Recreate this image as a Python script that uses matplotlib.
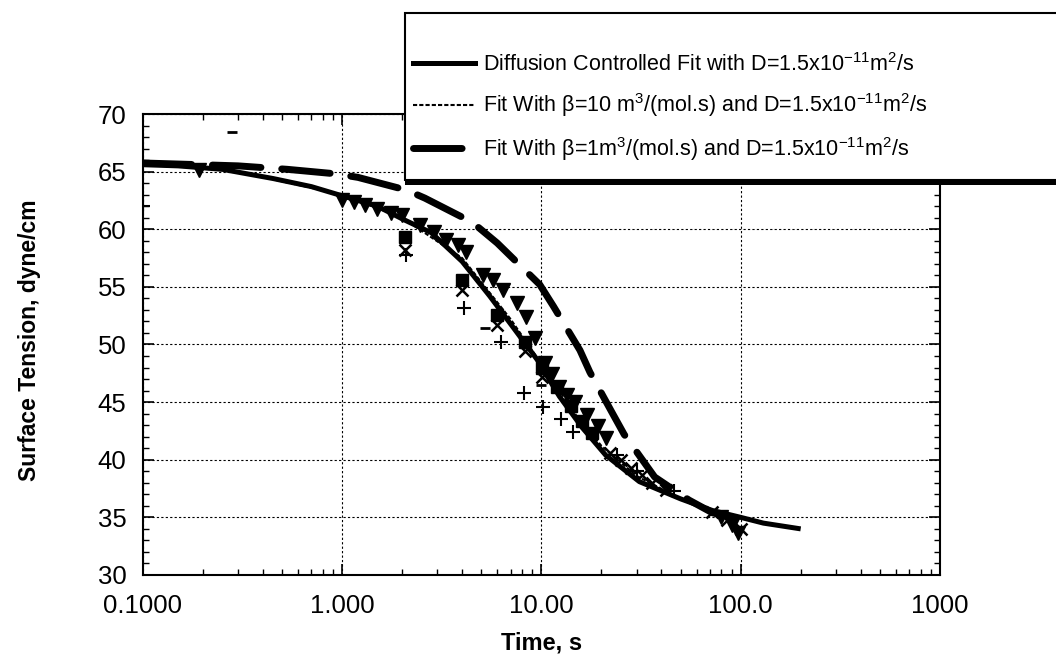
import matplotlib
matplotlib.use('Agg')
import matplotlib.pyplot as plt
import matplotlib.patches as mpatches
from matplotlib.lines import Line2D
from matplotlib.ticker import MultipleLocator, LogLocator, NullFormatter

plt.rcParams['font.family'] = ['Liberation Sans', 'DejaVu Sans']
plt.rcParams['mathtext.fontset'] = 'custom'
plt.rcParams['mathtext.rm'] = 'Liberation Sans'

# fit curves (time in s, surface tension in dyne/cm)
t_diff = [0.1, 0.15, 0.25, 0.45, 0.7, 1.0, 1.5, 2.0, 2.8, 4.0, 5.5, 7.2, 9.5, 12.3, 16, 21, 31, 50, 72, 100, 130, 200]
st_diff = [65.6, 65.5, 65.2, 64.4, 63.7, 62.9, 62.0, 60.9, 59.7, 57.2, 54.2, 51.5, 48.7, 45.5, 42.8, 40.4, 38.1, 36.6, 35.6, 35.0, 34.5, 34.0]

t_b10 = [0.1, 0.3, 1.0, 2.0, 4.0, 7.0, 10, 15, 20, 30, 50, 80, 100]
st_b10 = [65.7, 65.0, 63.0, 61.0, 57.5, 52.2, 48.3, 43.8, 41.2, 38.6, 36.6, 35.3, 34.9]

t_b1 = [0.1, 0.3, 0.53, 0.94, 1.2, 2.1, 2.6, 4.5, 6.0, 9.8, 11.5, 15.6, 17.5, 22.6, 26, 37, 55, 72, 100]
st_b1 = [65.75, 65.5, 65.2, 64.8, 64.5, 63.4, 62.7, 60.6, 58.8, 55.2, 53.3, 49.5, 47.6, 44.1, 42.2, 38.5, 36.5, 35.4, 34.8]

# measured points
t_tri = [0.19, 1.0, 1.15, 1.3, 1.5, 1.75, 2.0, 2.45, 2.9, 3.3, 3.8, 4.2, 5.1, 5.7, 6.4, 7.5, 8.4, 9.3, 10.4, 11.3, 12.3,
         13.5, 14.7, 16.9, 19.2, 21.2, 80, 90, 97]
st_tri = [65.1, 62.5, 62.4, 62.1, 61.8, 61.4, 61.2, 60.4, 59.8, 59.1, 58.6, 58.0, 56.0, 55.6, 54.7, 53.6, 52.4, 50.6, 48.4, 47.4, 46.3,
          45.6, 45.0, 43.9, 42.9, 41.9, 35.0, 34.3, 33.6]

t_sq = [2.07, 4.0, 6.0, 8.3, 10.1, 12.0, 14.0, 16.0, 18.0]
st_sq = [59.3, 55.6, 52.6, 50.2, 48.0, 46.3, 44.7, 43.4, 42.3]

t_x = [2.07, 4.0, 6.0, 8.3, 10.1, 22, 25, 28, 32, 36, 42, 72, 85, 100]
st_x = [58.2, 54.7, 51.7, 49.4, 47.2, 40.6, 40.0, 39.3, 38.7, 38.0, 37.4, 35.5, 34.8, 34.0]

t_plus = [0.1, 2.1, 4.1, 6.3, 8.2, 10.2, 12.6, 14.4, 24, 30, 46]
st_plus = [62.0, 57.8, 53.2, 50.2, 45.8, 44.6, 43.5, 42.4, 40.4, 39.0, 37.3]

t_small = [5.2, 0.28, 10.0]
st_small = [51.4, 68.4, 46.5]

x_ticks = [0.1, 1, 10, 100, 1000]
x_tick_labels = ['0.1000', '1.000', '10.00', '100.0', '1000']
y_ticks = [30, 35, 40, 45, 50, 55, 60, 65, 70]

labels = [r'Diffusion Controlled Fit with D=1.5x10$^{\mathregular{-11}}$m$^{\mathregular{2}}$/s',
          r'Fit With $\mathregular{\beta}$=10 m$^{\mathregular{3}}$/(mol.s) and D=1.5x10$^{\mathregular{-11}}$m$^{\mathregular{2}}$/s',
          r'Fit With $\mathregular{\beta}$=1m$^{\mathregular{3}}$/(mol.s) and D=1.5x10$^{\mathregular{-11}}$m$^{\mathregular{2}}$/s']

fig = plt.figure(figsize=(10.56, 6.59), dpi=100)
ax = fig.add_axes([0.1354, 0.1275, 0.7547, 0.6995])

ax.plot(t_diff, st_diff, color='black', lw=3.6, solid_capstyle='butt', zorder=3)
ax.plot(t_b10, st_b10, color='black', lw=1.5, ls=(0, (2, 1)), zorder=3)
ax.plot(t_b1, st_b1, color='black', lw=5, ls=(0, (7, 3)), dash_capstyle='round', zorder=3)

ax.plot(t_tri, st_tri, 'v', color='black', ms=10, ls='none', zorder=4)
ax.plot(t_sq, st_sq, 's', color='black', ms=9, ls='none', zorder=4)
ax.plot(t_x, st_x, 'x', color='black', ms=8, mew=1.8, ls='none', zorder=4)
ax.plot(t_plus, st_plus, '+', color='black', ms=10, mew=1.5, ls='none', zorder=4)
ax.plot(t_small, st_small, '_', color='black', ms=7, mew=2, ls='none', zorder=4)

ax.set_xscale('log')
ax.set_xlim(0.1, 1000)
ax.set_ylim(30, 70)
ax.set_xticks(x_ticks)
ax.set_xticklabels(x_tick_labels)
ax.xaxis.set_minor_locator(LogLocator(base=10, subs=range(2, 10)))
ax.xaxis.set_minor_formatter(NullFormatter())
ax.set_yticks(y_ticks)
ax.yaxis.set_minor_locator(MultipleLocator(1))

ax.grid(True, which='major', color='black', ls=(0, (2, 2)), lw=0.8)
ax.tick_params(which='both', direction='in', top=True, right=True, labelsize=18.5, color='black')
ax.tick_params(which='major', length=8, width=1.2)
ax.tick_params(which='minor', length=4, width=1)
ax.tick_params(axis='x', pad=14)
ax.tick_params(axis='y', pad=12)
for s in ax.spines.values():
    s.set_linewidth(1.5)

ax.set_xlabel('Time, s', fontsize=17, fontweight='bold')
ax.set_ylabel('Surface Tension, dyne/cm', fontsize=16.5, fontweight='bold')
ax.xaxis.set_label_coords(0.5, -0.122)
ax.yaxis.set_label_coords(-0.128, 0.51)

# legend box with shadow, running off the right edge
shadow = mpatches.Rectangle((405 / 1056, 1 - 185 / 659), 0.7, 167 / 659, transform=fig.transFigure,
                            facecolor='black', edgecolor='none', zorder=2)
box = mpatches.Rectangle((405 / 1056, 1 - 180 / 659), 0.7, 167 / 659, transform=fig.transFigure,
                         facecolor='white', edgecolor='black', lw=1.5, zorder=3)
fig.patches.extend([shadow, box])

handles = [Line2D([], [], color='black', lw=3.6),
           Line2D([], [], color='black', lw=1.5, ls=(0, (2, 1))),
           Line2D([], [], color='black', lw=5, ls=(0, (7, 3)), dash_capstyle='round')]
leg = fig.legend(handles, labels, loc='upper left', bbox_to_anchor=(413 / 1056, 1 - 53 / 659),
                 frameon=False, fontsize=15.5, handlelength=2.9, handletextpad=0.35,
                 labelspacing=0.72, borderpad=0, borderaxespad=0)
leg.set_zorder(5)

fig.savefig('out.png', dpi=100)
